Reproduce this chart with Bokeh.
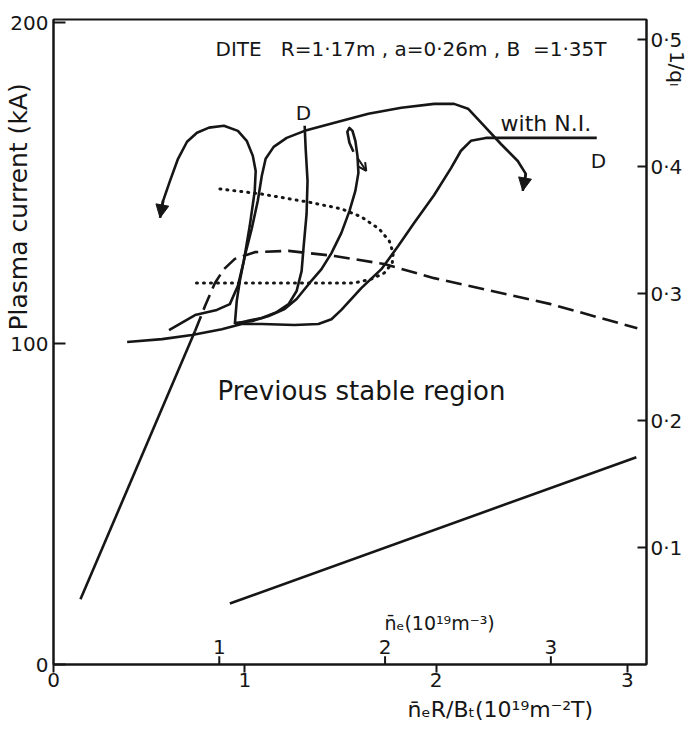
import numpy as np
from bokeh.plotting import figure
from bokeh.models import Range1d, LinearAxis, FixedTicker, Label, Arrow, NormalHead, OpenHead
from bokeh.embed import file_html
from bokeh.resources import INLINE
from bokeh.core.properties import value

# ---------------- data ----------------
# machine parameters quoted in the title
R_MAJOR = 1.17   # m
A_MINOR = 0.26   # m
B_TOR = 1.35     # T

# axis ticks
x_ticks = [0, 1, 2, 3]
x_tick_labels = ["0", "1", "2", "3"]
current_ticks = [0, 100, 200]
invq_ticks = [0.1, 0.2, 0.3, 0.4, 0.5]
invq_tick_labels = ["0·1", "0·2", "0·3", "0·4", "0·5"]
ne_ticks = [1, 2, 3]                      # n_e in 1e19 m^-3
ne_tick_labels = ["1", "2", "3"]

# x: n_e R / B_T (1e19 m^-2 T), y: plasma current (kA)
ramp_x = [0.141, 0.740]
ramp_y = [20.3, 103.9]

limit_x = [0.740, 0.792, 0.844, 0.891, 0.948, 1.052, 1.229, 1.469, 1.729, 1.990, 2.599, 3.052]
limit_y = [103.9, 111.7, 118.9, 123.2, 126.4, 128.5, 128.9, 127.3, 124.8, 120.4, 112.3, 104.8]

lower_x = [0.922, 3.047]
lower_y = [19.0, 64.6]

# previous stable region boundary (dotted)
prev_x = [0.870, 1.089, 1.333, 1.505, 1.609, 1.703, 1.755, 1.776, 1.771, 1.729, 1.661, 1.573, 1.297, 0.740]
prev_y = [148.2, 146.6, 144.1, 142.0, 139.5, 135.7, 132.0, 128.2, 125.1, 122.0, 120.1, 118.9, 118.9, 118.9]

# discharge trajectories
ni_x = [0.385, 0.568, 0.724, 0.880, 0.984, 1.089, 1.260, 1.385, 1.453, 1.505, 1.609, 1.714,
        1.802, 1.885, 1.990, 2.078, 2.130, 2.182, 2.260, 2.339, 2.840]
ni_y = [100.5, 101.4, 102.7, 104.5, 106.1, 106.1, 105.8, 106.1, 107.6, 110.5, 117.3, 123.2,
        130.4, 137.6, 146.3, 154.7, 160.1, 163.2, 164.1, 164.1, 164.1]

loopA_x = [0.604, 0.740, 0.854, 0.922, 0.964, 0.995, 1.026, 1.052, 1.057, 1.042, 1.010, 0.964,
           0.891, 0.813, 0.750, 0.698, 0.651, 0.609, 0.573, 0.557]
loopA_y = [104.2, 108.9, 110.5, 112.3, 118.0, 125.8, 136.7, 147.6, 153.8, 158.5, 163.2, 166.3,
           167.9, 167.3, 165.7, 162.9, 157.6, 150.7, 144.5, 139.2]

curveB_x = [0.948, 0.958, 0.974, 1.000, 1.036, 1.068, 1.089, 1.109, 1.151, 1.219, 1.313, 1.469,
            1.646, 1.818, 1.990, 2.094, 2.167, 2.250, 2.339, 2.427, 2.469, 2.453]
curveB_y = [106.1, 113.3, 119.5, 127.3, 135.7, 144.5, 152.3, 157.6, 161.3, 164.1, 166.3, 168.8,
            171.6, 173.5, 174.7, 174.7, 173.2, 167.9, 162.2, 156.9, 152.9, 147.6]

curveD_x = [1.313, 1.318, 1.328, 1.323, 1.307, 1.297, 1.271, 1.229, 1.167, 1.089, 1.010, 0.948]
curveD_y = [167.9, 161.0, 150.7, 140.4, 129.8, 122.6, 116.4, 112.3, 109.8, 108.0, 107.0, 106.1]

curveE_x = [0.948, 1.036, 1.125, 1.208, 1.271, 1.339, 1.401, 1.453, 1.505, 1.547, 1.578, 1.594,
            1.589, 1.578, 1.563, 1.547, 1.536, 1.547, 1.568]
curveE_y = [106.4, 107.0, 108.6, 110.8, 113.9, 118.9, 123.2, 128.2, 134.5, 141.3, 147.6, 153.2,
            158.5, 163.2, 166.3, 167.2, 166.0, 162.6, 159.8]
e_arrow_x = [1.589, 1.635]
e_arrow_y = [157.9, 153.8]

# ---------------- figure ----------------
FONT = "DejaVu Sans"
INK = "#161616"
NB = "\u00a0"

p = figure(width=692, height=731, output_backend="svg", toolbar_location=None,
           x_range=Range1d(0, 3.10), y_range=Range1d(0, 201),
           min_border_left=53, min_border_right=46, min_border_top=19, min_border_bottom=67)
p.extra_y_ranges = {"invq": Range1d(0.008, 0.516)}
p.xgrid.visible = False
p.ygrid.visible = False
p.background_fill_color = "white"
p.border_fill_color = "white"
p.outline_line_color = INK
p.outline_line_width = 2

def style_axis(ax, tin, tout, standoff):
    ax.axis_line_color = INK
    ax.axis_line_width = 2
    ax.major_tick_line_color = INK
    ax.major_tick_line_width = 2
    ax.major_tick_in = tin
    ax.major_tick_out = tout
    ax.minor_tick_line_color = None
    ax.major_label_text_font = FONT
    ax.major_label_text_font_size = "20px"
    ax.major_label_text_color = INK
    ax.major_label_standoff = standoff
    ax.axis_label_text_font = FONT
    ax.axis_label_text_font_style = "normal"
    ax.axis_label_text_color = INK

xa = p.xaxis[0]
xa.ticker = FixedTicker(ticks=x_ticks)
xa.major_label_overrides = dict(zip(x_ticks, x_tick_labels))
style_axis(xa, 0, 8, 0)
xa.axis_label = NB * 43 + "n̄ₑR/Bₜ(10¹⁹m⁻²T)"
xa.axis_label_text_font_size = "22px"
xa.axis_label_standoff = 7

ya = p.yaxis[0]
ya.ticker = FixedTicker(ticks=current_ticks)
style_axis(ya, 12, 0, 5)
ya.axis_label = NB * 34 + "Plasma current (kA)"
ya.axis_label_text_font_size = "25px"
ya.axis_label_standoff = -26

ra = LinearAxis(y_range_name="invq")
ra.ticker = FixedTicker(ticks=invq_ticks)
ra.major_label_overrides = dict(zip(invq_ticks, invq_tick_labels))
style_axis(ra, 9, 0, 4)
ra.axis_label = "1/qₗ" + NB * 86
ra.axis_label_text_font_size = "20px"
ra.axis_label_standoff = -20
p.add_layout(ra, "right")

# secondary density scale drawn on the bottom axis (ticks point inward)
ne_x = [n * R_MAJOR / B_TOR for n in ne_ticks]
p.segment(x0=ne_x, y0=[0] * len(ne_x), x1=ne_x, y1=[2.6] * len(ne_x), line_color=INK, line_width=2)
p.text(x=ne_x, y=[3.2] * len(ne_x), text=ne_tick_labels, text_align="center",
       text_baseline="bottom", text_font=value(FONT), text_font_size="20px", text_color=INK)

# curves
LW = 2.6
p.line(ramp_x, ramp_y, line_color=INK, line_width=LW)
p.line(limit_x, limit_y, line_color=INK, line_width=LW, line_dash="16 7")
p.line(lower_x, lower_y, line_color=INK, line_width=LW)
p.line(prev_x, prev_y, line_color=INK, line_width=3, line_dash="1 6", line_cap="round")
for xs, ys in [(ni_x, ni_y), (loopA_x, loopA_y), (curveB_x, curveB_y), (curveD_x, curveD_y), (curveE_x, curveE_y)]:
    p.line(xs, ys, line_color=INK, line_width=LW, line_join="round")

for xs, ys in [(loopA_x, loopA_y), (curveB_x, curveB_y)]:
    p.add_layout(Arrow(end=NormalHead(size=13, fill_color=INK, line_color=INK),
                       x_start=xs[-2], y_start=ys[-2], x_end=xs[-1], y_end=ys[-1],
                       line_color=INK, line_width=LW))
p.add_layout(Arrow(end=OpenHead(size=8, line_color=INK, line_width=2),
                   x_start=e_arrow_x[0], y_start=e_arrow_y[0], x_end=e_arrow_x[1], y_end=e_arrow_y[1],
                   line_color=INK, line_width=2))

# texts inside the frame (data units)
def lab(x, y, text, size, align="left", baseline="middle", angle=0.0):
    p.add_layout(Label(x=x, y=y, text=text, text_font=FONT, text_font_size=size, text_color=INK,
                       text_align=align, text_baseline=baseline, angle=angle))

lab(0.847, 191.9, "DITE" + NB * 3 + "R=1·17m" + NB + "," + NB + "a=0·26m" + NB + "," + NB + "B" + NB * 2 + "=1·35T", "20px")
lab(1.307, 172.0, "D", "20px", align="center")
lab(2.337, 168.5, "with N.I.", "22px")
lab(2.849, 157.0, "D", "20px", align="center")
lab(0.857, 85.1, "Previous stable region", "26px")
lab(1.730, 13.0, "n̄ₑ(10¹⁹m⁻³)", "19px")

open("out.html", "w").write(file_html(p, INLINE))
